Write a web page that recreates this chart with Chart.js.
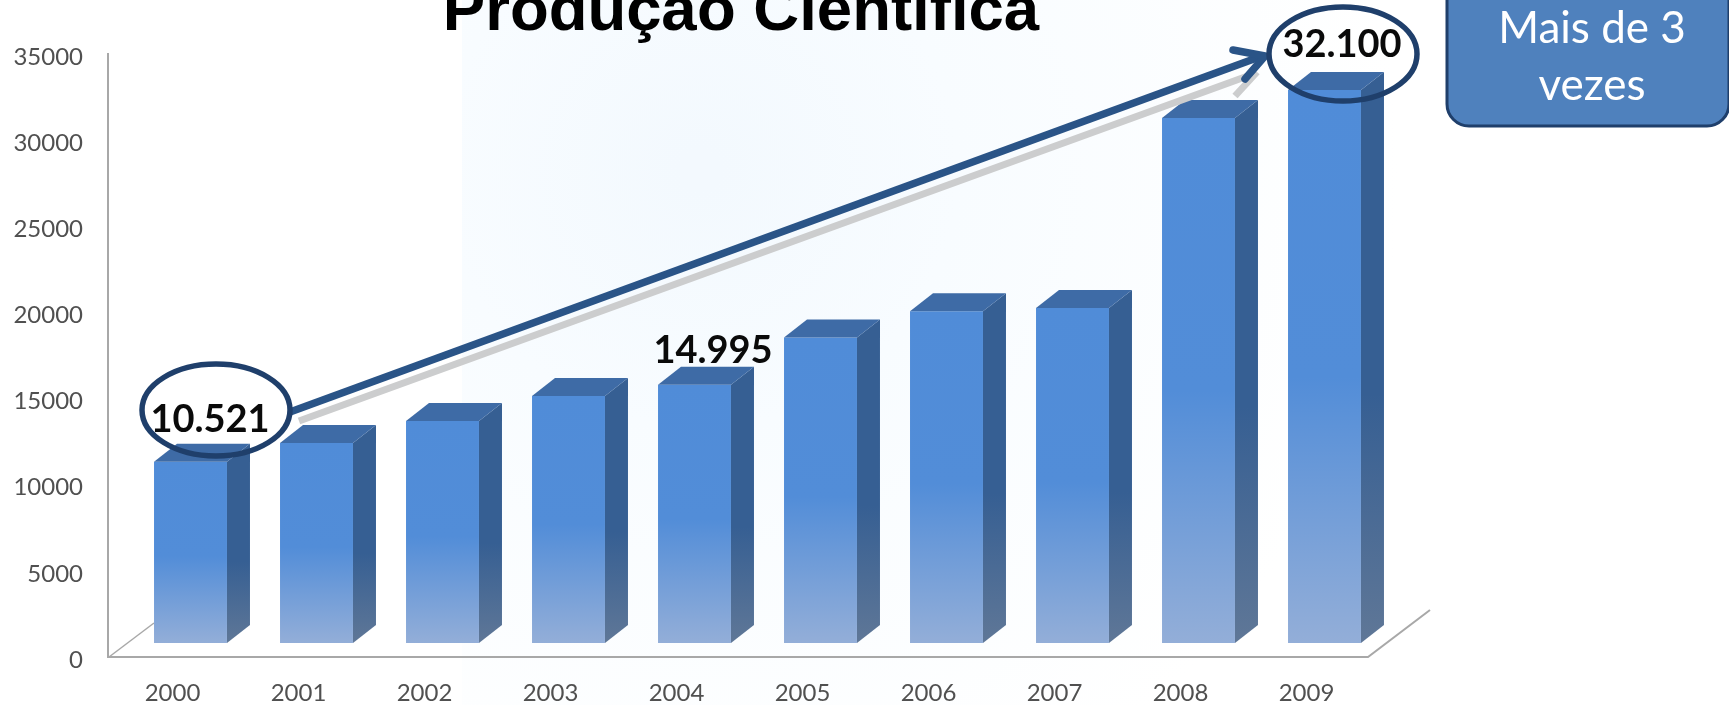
<!DOCTYPE html>
<html><head><meta charset="utf-8">
<style>html,body{margin:0;padding:0;background:#fff;overflow:hidden}canvas{display:block}</style>
<script src="https://cdn.jsdelivr.net/npm/chart.js@4"></script>
</head><body><canvas id="c" width="1729" height="705"></canvas>
<script>
const categories = ['2000','2001','2002','2003','2004','2005','2006','2007','2008','2009'];
const producao = [10521,11610,12880,14330,14995,17730,19260,19450,30470,32100];
const yTicks = [0,5000,10000,15000,20000,25000,30000,35000];
const titleText = 'Produção Científica';
const calloutLines = ['Mais de 3','vezes'];
const valueCallouts = [['10.521',210,432],['14.995',713,363],['32.100',1342,57]];
const DX = 23, DY = 18;

function path(ctx, pts){ctx.beginPath();pts.forEach((p,i)=>i?ctx.lineTo(p[0],p[1]):ctx.moveTo(p[0],p[1]));}

const bg = {id:'bg',beforeDraw(ch){
  const c=ch.ctx;c.save();
  c.fillStyle='#fff';c.fillRect(0,0,1729,705);
  const g=c.createRadialGradient(700,170,20,700,170,700);
  g.addColorStop(0,'#f3f9fe');g.addColorStop(.35,'#f8fcff');g.addColorStop(1,'#ffffff');
  c.fillStyle=g;c.fillRect(462,0,960,705);
  c.restore();
}};
const frame = {id:'frame',beforeDatasetsDraw(ch){
  const c=ch.ctx;c.save();c.strokeStyle='#a8a8a8';c.lineWidth=2;c.lineJoin='miter';
  path(c,[[108,53],[108,657],[1368,657],[1430,610]]);c.stroke();
  c.lineWidth=1.5;path(c,[[109,657],[154,623]]);c.stroke();
  c.restore();
}};
const depth = {id:'depth',afterDatasetsDraw(ch){
  const c=ch.ctx;c.save();
  ch.getDatasetMeta(0).data.forEach(b=>{
    const l=b.x-b.width/2,r=b.x+b.width/2,t=b.y,bt=b.base;
    const s=c.createLinearGradient(0,t,0,bt);
    s.addColorStop(0,'#365f93');s.addColorStop(.55,'#365f93');s.addColorStop(1,'#5f7797');
    c.fillStyle=s;path(c,[[r,t],[r+DX,t-DY],[r+DX,bt-DY],[r,bt]]);c.closePath();c.fill();
    c.fillStyle='#3e6ba6';path(c,[[l,t],[l+DX,t-DY],[r+DX,t-DY],[r,t]]);c.closePath();c.fill();
  });
  c.restore();
}};
const notes = {id:'notes',afterDatasetsDraw(ch){
  const c=ch.ctx;c.save();
  c.fillStyle='#000';c.font='bold 63.5px "Liberation Sans"';c.textAlign='center';c.textBaseline='alphabetic';
  c.fillText(titleText,741,30);
  c.lineCap='butt';c.strokeStyle='#cccdce';c.lineWidth=7;
  path(c,[[299,421],[1256,73]]);c.stroke();
  path(c,[[1235,96],[1257,72]]);c.stroke();
  c.strokeStyle='#2a5487';c.lineWidth=7.5;
  path(c,[[290,412],[1262,56]]);c.stroke();
  c.lineCap='round';c.lineJoin='round';
  path(c,[[1233,50],[1265,56],[1245,79]]);c.stroke();
  c.strokeStyle='#1f3f6b';c.lineWidth=5.5;
  c.beginPath();c.ellipse(216,410,74,46,0,0,Math.PI*2);c.stroke();
  c.beginPath();c.ellipse(1343,54,74,47,0,0,Math.PI*2);c.stroke();
  c.fillStyle='#0a0a0a';c.font='bold 38px Lato';
  valueCallouts.forEach(v=>c.fillText(v[0],v[1],v[2]));
  c.fillStyle='#4f81bd';c.strokeStyle='#1f3f6b';c.lineWidth=3;
  c.beginPath();c.roundRect(1447,-40,282,166,22);c.fill();c.stroke();
  c.fillStyle='#fff';c.font='44px Lato';
  c.fillText(calloutLines[0],1592,43);c.fillText(calloutLines[1],1592,100);
  c.restore();
}};

new Chart(document.getElementById('c'),{
  type:'bar',
  data:{labels:categories,datasets:[{
    data:producao,yAxisID:'y1',barPercentage:.579,categoryPercentage:1,borderWidth:0,
    backgroundColor(ctx){
      const ch=ctx.chart,sc=ch.scales.y1;
      if(!sc||ctx.type!=='data')return '#528dd8';
      const t=sc.getPixelForValue(producao[ctx.dataIndex]),b=sc.getPixelForValue(0);
      if(!Number.isFinite(t)||!Number.isFinite(b))return '#528dd8';
      const g=ch.ctx.createLinearGradient(0,t,0,b);
      g.addColorStop(0,'#508cd8');g.addColorStop(.52,'#528dd8');g.addColorStop(1,'#93aed8');
      return g;
    }
  }]},
  options:{
    responsive:false,animation:false,
    layout:{padding:{top:40,right:341.5,left:0,bottom:0}},
    plugins:{legend:{display:false},tooltip:{enabled:false},title:{display:false}},
    scales:{
      x:{grid:{display:false,drawTicks:false},border:{display:false},
        afterFit(s){s.height=45;},
        ticks:{color:'#505050',font:{family:'Lato',size:24},padding:19,labelOffset:-18,autoSkip:false,maxRotation:0}},
      y:{position:'left',min:0,max:35987,
        grid:{display:false,drawTicks:false},border:{display:false},
        afterBuildTicks(s){s.ticks=yTicks.map(v=>({value:v}));},
        afterFit(s){s.width=127.5;s.paddingTop=0;s.paddingBottom=0;},
        ticks:{callback:v=>String(v),color:'#505050',font:{family:'Lato',size:24},padding:44.5}},
      y1:{display:false,min:-987,max:35000}
    }
  },
  plugins:[bg,frame,depth,notes]
});
</script></body></html>
